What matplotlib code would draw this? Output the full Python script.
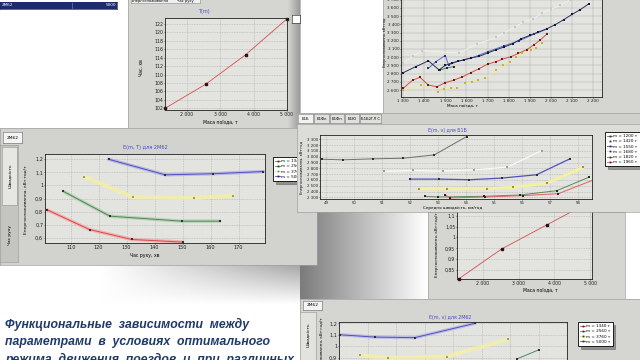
import numpy as np
import matplotlib
matplotlib.use('Agg')
import matplotlib.pyplot as plt
from matplotlib.ticker import FuncFormatter
from matplotlib.lines import Line2D

# T(m): travel time vs train mass
tm_mass = [1340, 2560, 3760, 5000]
tm_time = [102.0, 107.7, 114.7, 123.2]

# E(m, T) for 2M62: energy vs travel time, one series per mass
emt_labels = ['m = 1340 т', 'm = 2560 т', 'm = 3760 т', 'm = 5000 т']
emt_t_1340 = [101.4, 116.7, 131.8, 150.0]
emt_e_1340 = [0.815, 0.663, 0.587, 0.567]
emt_t_2560 = [107.4, 124.0, 149.6, 163.3]
emt_e_2560 = [0.954, 0.765, 0.727, 0.727]
emt_t_3760 = [114.8, 132.4, 154.2, 168.1]
emt_e_3760 = [1.068, 0.909, 0.904, 0.922]
emt_t_5000 = [123.5, 143.7, 160.7, 178.8]
emt_e_5000 = [1.200, 1.081, 1.089, 1.106]

# energy vs train mass (top right window)
em_light_m = [1300, 1345, 1390, 1565, 1650, 1740, 1780, 1830, 1870, 1915, 1960, 2000, 2045, 2090, 2135]
em_light_e = [2930, 3010, 3080, 3050, 3160, 3240, 3300, 3365, 3430, 3465, 3540, 3585, 3630, 3700, 3760]
em_navy_m = [1300, 1360, 1420, 1470, 1500, 1530, 1560, 1590, 1620, 1660, 1700, 1740, 1780,
             1820, 1860, 1900, 1940, 1980, 2020, 2060, 2100, 2140, 2180]
em_navy_e = [2810, 2885, 2955, 2845, 2900, 2930, 2950, 2970, 2990, 3010, 3050, 3090, 3125,
             3165, 3225, 3265, 3305, 3345, 3395, 3455, 3520, 3580, 3650]
em_blue_m = [1420, 1455, 1500, 1515, 1560, 1620, 1700, 1780, 1850, 1920, 1980]
em_blue_e = [2865, 2945, 3020, 2905, 2950, 2985, 3065, 3140, 3200, 3280, 3340]
em_green_m = [1475, 1510, 1540]
em_green_e = [2845, 2870, 2885]
em_red_m = [1300, 1345, 1380, 1420, 1460, 1500, 1540, 1580, 1620, 1660,
            1700, 1740, 1770, 1810, 1845, 1885, 1920, 1950, 1980]
em_red_e = [2620, 2720, 2755, 2660, 2640, 2690, 2720, 2760, 2810, 2860,
            2915, 2945, 2975, 3005, 3045, 3090, 3150, 3210, 3280]
em_yel_m = [1300, 1385, 1465, 1495, 1525, 1555, 1595, 1625, 1655, 1690,
            1740, 1775, 1805, 1835, 1865, 1905, 1930, 1960]
em_yel_e = [2600, 2660, 2570, 2610, 2620, 2630, 2680, 2700, 2720, 2745,
            2845, 2905, 2945, 3000, 3045, 3090, 3110, 3170]

# E(m, v) for Б1Б: energy vs average speed
emv_labels = ['m = 1200 т', 'm = 1420 т', 'm = 1550 т', 'm = 1680 т', 'm = 1820 т', 'm = 1960 т']
emv_v_a = [48.85, 49.6, 50.67, 51.76, 52.87, 54.02]
emv_e_a = [2957, 2946, 2963, 2974, 3031, 3346]
emv_v_b = [51.07, 52.12, 53.19, 54.3, 55.48, 56.7]
emv_e_b = [2746, 2763, 2751, 2774, 2820, 3106]
emv_v_c = [52.0, 53.05, 54.12, 55.27, 56.52, 57.71]
emv_e_c = [2614, 2614, 2603, 2631, 2689, 2963]
emv_v_d = [52.33, 53.31, 54.76, 55.69, 56.9, 58.17]
emv_e_d = [2449, 2449, 2449, 2471, 2546, 2814]
emv_v_e = [52.54, 52.99, 54.65, 55.93, 57.24, 58.4]
emv_e_e = [2317, 2306, 2317, 2340, 2414, 2649]
emv_v_f = [53.25, 53.43, 54.68, 56.02, 57.3, 58.57]
emv_e_f = [2346, 2289, 2306, 2329, 2363, 2603]

# specific energy vs mass (lower right)
es_mass = [1340, 2530, 3790, 5000]
es_e = [0.81, 0.947, 1.058, 1.165]

# E(m, v) for 2M62 (bottom right, partly visible)
ev_labels = ['m = 1340 т', 'm = 2560 т', 'm = 3760 т', 'm = 5000 т']
ev_v_5000 = [40.2, 46.3, 53.3, 63.9]
ev_e_5000 = [1.10, 1.08, 1.075, 1.20]
ev_v_3760 = [43.7, 48.6, 58.9, 69.6]
ev_e_3760 = [0.92, 0.90, 0.91, 1.06]
ev_v_2560 = [71.2, 75.1]
ev_e_2560 = [0.89, 0.97]

caption = ['Функциональные  зависимости  между',
           'параметрами  в  условиях  оптимального',
           'режима  движения  поездов  и  при  различных']

W, H = 640, 360
fig = plt.figure(figsize=(6.4, 3.6), dpi=100)
fig.patch.set_facecolor('white')

WIN = '#d5d5d1'
PLOT = '#e3e3df'
TITLE = '#4a4acc'
FS = 3.3


def R(x0, y0, x1, y1):
    return [x0 / W, 1 - y1 / H, (x1 - x0) / W, (y1 - y0) / H]


def panel(x0, y0, x1, y1, color=WIN, edge='#a0a0a0'):
    a = fig.add_axes(R(x0, y0, x1, y1))
    a.set_xticks([])
    a.set_yticks([])
    a.set_facecolor(color)
    for s in a.spines.values():
        s.set_color(edge)
        s.set_linewidth(0.5)
    return a


def gradient(x0, y0, x1, y1, c0, c1, vertical_fade=False):
    a = fig.add_axes(R(x0, y0, x1, y1))
    a.axis('off')
    c0 = np.array(matplotlib.colors.to_rgb(c0))
    c1 = np.array(matplotlib.colors.to_rgb(c1))
    t = np.linspace(0, 1, 64)[None, :, None]
    img = c0 + (c1 - c0) * t
    img = np.repeat(img, 32, axis=0)
    if vertical_fade:
        v = np.linspace(0, 1, 32)[:, None, None]
        img = img + (1 - img) * v
    a.imshow(np.clip(img, 0, 1), aspect='auto', extent=[0, 1, 0, 1])
    return a


def ftext(ax, x, y, s, **kw):
    kw.setdefault('fontsize', FS)
    kw.setdefault('ha', 'center')
    kw.setdefault('va', 'center')
    ax.text(x / W, 1 - y / H, s, transform=fig.transFigure, **kw)


thousands = FuncFormatter(lambda v, p: f'{int(round(v)):,}'.replace(',', ' '))
commas = FuncFormatter(lambda v, p: ('%g' % round(v, 3)).replace('.', ','))


def chart(rect, xlim, ylim, xticks, yticks, xfmt=None, yfmt=None, fs=FS):
    ax = fig.add_axes(R(*rect))
    ax.set_facecolor(PLOT)
    ax.set_xlim(*xlim)
    ax.set_ylim(*ylim)
    ax.set_xticks(xticks)
    ax.set_yticks(yticks)
    if xfmt:
        ax.xaxis.set_major_formatter(xfmt)
    if yfmt:
        ax.yaxis.set_major_formatter(yfmt)
    ax.grid(True, color='#a9a9a9', linestyle=(0, (1.5, 1.5)), linewidth=0.4)
    ax.tick_params(labelsize=fs, length=0.8, width=0.4, pad=0.5, colors='#202020')
    for s in ax.spines.values():
        s.set_linewidth(0.6)
        s.set_color('#202020')
    return ax


def series(ax, x, y, line, marker='#303030', lw=0.7, band=None, ms=1.5):
    if band:
        ax.plot(x, y, color=band, lw=lw * 3.5, alpha=0.7, solid_capstyle='round', zorder=2)
    ax.plot(x, y, color=line, lw=lw, zorder=3)
    ax.plot(x, y, 's', color=marker, ms=ms, zorder=4, markeredgewidth=0)


def legend(ax, x, y, labels, lines, markers):
    handles = [Line2D([], [], color=c, lw=0.6, marker='s', ms=1.3,
                      markerfacecolor=m, markeredgewidth=0) for c, m in zip(lines, markers)]
    leg = ax.legend(handles, labels, loc='upper left', bbox_to_anchor=(x / W, 1 - y / H),
                    bbox_transform=fig.transFigure, fontsize=3.0, frameon=True,
                    fancybox=False, shadow=True, framealpha=1, borderpad=0.5,
                    labelspacing=0.3, handlelength=1.2, handletextpad=0.3, borderaxespad=0)
    leg.get_frame().set_edgecolor('black')
    leg.get_frame().set_linewidth(0.6)


# --- background shading ---
gradient(300, 212, 428, 299, '#7c7c7c', '#ffffff')
gradient(100, 265, 300, 305, '#ffffff', '#a8a8a8', vertical_fade=True)

# --- top-left table row ---
tb = panel(0, 2, 117, 9, color='#1e2c6e', edge='#1e2c6e')
ftext(tb, 2, 5.5, '2M62', color='white', ha='left', fontsize=3)
ftext(tb, 116, 5.5, '5000', color='white', ha='right', fontsize=3)
tb.axvline(72 / 117, color='#8090c0', lw=0.4)

# --- T(m) window ---
w1 = panel(128, -3, 300, 128)
gradient(288, -3, 300, 128, WIN, '#9a9a9a')
tab = panel(131, -3, 200, 3, color='#f0f0f0')
ftext(tab, 150, 0.8, 'Енергоспоживання', fontsize=2.6)
ftext(tab, 185, 0.8, 'Час руху', fontsize=2.6)
ax1 = chart((165, 18, 287, 110), (1340, 5000), (101.6, 123.4),
            [2000, 3000, 4000, 5000], list(range(102, 123, 2)), thousands)
ax1.plot(tm_mass, tm_time, color='#d05050', lw=0.6)
ax1.plot(tm_mass, tm_time, 's', color='#301010', ms=1.8, clip_on=False)
ftext(ax1, 204, 11, 'T(m)', color=TITLE, fontsize=3.6)
ftext(ax1, 220, 122, 'Маса поїзда, т')
ftext(ax1, 141, 68, 'Час, хв', rotation=90)
stub = panel(292, 15, 300, 23, color='white', edge='#404040')

# --- top right window: energy vs mass ---
panel(383, -3, 640, 113)
ax2 = chart((401, -25, 602, 97), (1290, 2242), (2515, 4000),
            list(range(1300, 2201, 100)), list(range(2600, 3800, 100)), thousands, thousands, fs=3.0)
ax2.grid(True, color='#a9a9a9', linestyle='-', linewidth=0.3)
ax2.plot(em_light_m, em_light_e, color='#f2f2f0', lw=0.6, zorder=2)
ax2.plot(em_light_m, em_light_e, 's', color='#c8c8bc', ms=1.5, markeredgewidth=0, zorder=3)
series(ax2, em_yel_m, em_yel_e, '#f2ea9a', marker='#c8b040', lw=0.5)
series(ax2, em_red_m, em_red_e, '#e04a3a', marker='#602020')
series(ax2, em_blue_m, em_blue_e, '#5a6ed0', marker='#303060')
series(ax2, em_green_m, em_green_e, '#3f8a60', marker='#203020')
series(ax2, em_navy_m, em_navy_e, '#26305e', marker='#101830')
ftext(ax2, 462, 105.5, 'Маса поїзда, т', fontsize=3.0)
ftext(ax2, 385.3, 42, 'Енергоспоживання, кВт·год', rotation=90, fontsize=2.4)

# --- big left window: E(m, T) ---
panel(0, 128, 317, 265, color='#d2d2ce')
t2 = panel(3, 132, 22, 143, color='#f4f4f4', edge='#808080')
ftext(t2, 12.5, 138, '2M62', fontsize=3.2)
vt = panel(0, 145, 18, 262, color='#c4c4c0')
vt1 = panel(2, 147, 17, 205, color='#e6e6e2')
ftext(vt1, 10, 176, 'Швидкість', rotation=90, fontsize=3.2)
ftext(vt, 10, 235, 'Час руху', rotation=90, fontsize=3.2)
ax3 = chart((45, 154, 265, 243), (100.8, 179.4), (0.56, 1.24),
            list(range(110, 171, 10)), [0.6, 0.7, 0.8, 0.9, 1.0, 1.1, 1.2], None, commas, fs=3.6)
series(ax3, emt_t_1340, emt_e_1340, '#e04848', band='#f4a0a0')
series(ax3, emt_t_2560, emt_e_2560, '#4f8a55', band='#a8c8a8')
series(ax3, emt_t_3760, emt_e_3760, '#f2f0a0', marker='#a09a60', band='#f4f0a8', lw=0.9)
series(ax3, emt_t_5000, emt_e_5000, '#5050c8', band='#a8a8e0')
ftext(ax3, 145, 148, 'E(m, T) для 2M62', color=TITLE, fontsize=3.6)
ftext(ax3, 145, 256, 'Час руху, хв')
ftext(ax3, 26, 200, 'Енергоспоживання, кВт·год/т', rotation=90, fontsize=3.2)
legend(ax3, 273, 157, emt_labels,
       ['#e04848', '#4f8a55', '#e8e090', '#5050c8'],
       ['#602020', '#203a20', '#908a60', '#202060'])

# --- lower right window: energy vs mass ---
panel(428, 212, 625, 299)
ax4 = chart((457, 205, 592, 279), (1282, 5053), (0.808, 1.15),
            [2000, 3000, 4000, 5000], [0.85, 0.9, 0.95, 1.0, 1.05, 1.1], thousands, commas)
ax4.plot(es_mass, es_e, color='#d05050', lw=0.6)
ax4.plot(es_mass, es_e, 's', color='#301010', ms=1.8, clip_on=False)
ftext(ax4, 540, 290, 'Маса поїзда, т')
ftext(ax4, 437, 245, 'Енергоспоживання, кВт·год/т', rotation=90, fontsize=3)

# --- middle right window: E(m, v) для Б1Б ---
panel(297, 113, 640, 212, color='#dcdcd8')
tabs = panel(297, 113, 640, 124, color='#d0d0cc')
for x0, x1, name in [(298, 313, 'Б1Б'), (314, 329, 'Б1Фк'), (330, 344, 'Б1Фн'),
                     (345, 359, 'Б1Ю'), (360, 381, 'Б1Б2ГЛ С')]:
    tb2 = panel(x0, 114, x1, 123, color='#f2f2f2' if name == 'Б1Б' else '#e0e0dc', edge='#909090')
    ftext(tb2, (x0 + x1) / 2, 119, name, fontsize=2.7)
ax5 = chart((320, 135, 592, 199), (48.79, 58.5), (2271, 3374),
            list(range(49, 59)), list(range(2300, 3301, 100)), None, thousands, fs=2.8)
series(ax5, emv_v_a, emv_e_a, '#707064')
series(ax5, emv_v_b, emv_e_b, '#fafafa', marker='#a0a090', lw=0.9)
series(ax5, emv_v_c, emv_e_c, '#5050c0', lw=0.9)
series(ax5, emv_v_d, emv_e_d, '#f2f0a4', marker='#a09040', lw=2.2)
series(ax5, emv_v_e, emv_e_e, '#5a8a5a', marker='#203020')
series(ax5, emv_v_f, emv_e_f, '#e06060', marker='#401818')
ftext(ax5, 447, 130, 'E(m, v) для Б1Б', color=TITLE, fontsize=3.4)
ftext(ax5, 453, 208, 'Середня швидкість, км/год', fontsize=3.0)
ftext(ax5, 302, 167, 'Енергоспоживання, кВт·год', rotation=90, fontsize=2.5)
legend(ax5, 605, 132, emv_labels,
       ['#707064', '#f0f0f0', '#5050c0', '#e8e090', '#5a8a5a', '#e06060'],
       ['#303030'] * 6)

# --- bottom right window: E(m, v) для 2M62 ---
panel(300, 299, 640, 365)
t3 = panel(303, 301, 322, 310, color='#f4f4f4', edge='#808080')
ftext(t3, 312.5, 305.5, '2M62', fontsize=3.2)
vt2 = panel(300, 312, 316, 365, color='#e2e2de')
ftext(vt2, 308, 335, 'Швидкість', rotation=90, fontsize=3.2)
ax6 = chart((339, 322, 567, 380), (40, 80), (0.707, 1.211),
            list(range(40, 81, 5)), [0.9, 1.0, 1.1, 1.2], None, commas, fs=3.6)
ax6.tick_params(labelbottom=False)
series(ax6, ev_v_5000, ev_e_5000, '#5050c0', band='#b0b0e4')
series(ax6, ev_v_3760, ev_e_3760, '#f2f0a4', marker='#a09a60', band='#f4f0b0', lw=0.9)
series(ax6, ev_v_2560, ev_e_2560, '#4f8a55')
ftext(ax6, 450, 317, 'E(m, v) для 2M62', color=TITLE, fontsize=3.4)
ftext(ax6, 322.5, 350, 'Енергоспоживання, кВт·год/т', rotation=90, fontsize=3.0)
legend(ax6, 578, 322, ev_labels,
       ['#e04848', '#4f8a55', '#e8e090', '#5050c8'],
       ['#303030'] * 4)

# --- caption ---
for i, line in enumerate(caption):
    fig.text(5 / W, 1 - (328 + 17.5 * i) / H, line, fontsize=8.8, color='#1f3a6a',
             family=['Liberation Sans', 'DejaVu Sans'], weight='bold', style='italic',
             ha='left', va='baseline')

fig.savefig('out.png', dpi=100)
